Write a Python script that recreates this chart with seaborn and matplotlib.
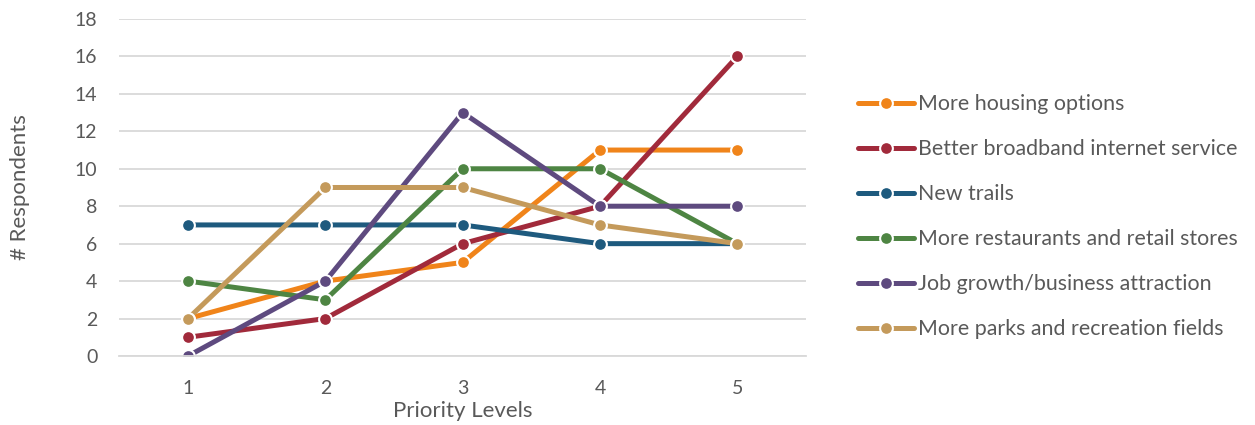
import matplotlib
matplotlib.use("Agg")
import matplotlib.pyplot as plt
import seaborn as sns
import pandas as pd

levels = [1, 2, 3, 4, 5]
series_names = [
    "More housing options",
    "Better broadband internet service",
    "New trails",
    "More restaurants and retail stores",
    "Job growth/business attraction",
    "More parks and recreation fields",
]
housing = [2, 4, 5, 11, 11]
broadband = [1, 2, 6, 8, 16]
trails = [7, 7, 7, 6, 6]
restaurants = [4, 3, 10, 10, 6]
jobs = [0, 4, 13, 8, 8]
parks = [2, 9, 9, 7, 6]
y_ticks = [0, 2, 4, 6, 8, 10, 12, 14, 16, 18]

colors = ["#F0841A", "#A12A3B", "#1E5A7E", "#4E8543", "#5E4A7F", "#C49A5B"]

rows = []
for name, vals in zip(series_names, [housing, broadband, trails, restaurants, jobs, parks]):
    for lvl, v in zip(levels, vals):
        rows.append({"Priority Levels": lvl, "# Respondents": v, "Series": name})
df = pd.DataFrame(rows)

sns.set_theme(style="white")
plt.rcParams["font.family"] = ["Lato", "DejaVu Sans"]
text_color = "#595959"

fig = plt.figure(figsize=(12.55, 4.25), dpi=100)
ax = fig.add_axes([0.0952, 0.1624, 0.5470, 0.7929])

sns.lineplot(
    data=df, x="Priority Levels", y="# Respondents", hue="Series",
    hue_order=series_names, palette=colors, marker="o", markersize=9.2,
    markeredgecolor="white", markeredgewidth=1.5, linewidth=3.6,
    dashes=False, ax=ax, legend=True,
)

ax.set_xlim(0.5, 5.5)
ax.set_ylim(0, 18)
ax.set_yticks(y_ticks)
ax.set_xticks(levels)
ax.yaxis.grid(True, color="#D9D9D9", linewidth=1.3)
ax.set_axisbelow(True)
for s in ["top", "right", "left"]:
    ax.spines[s].set_visible(False)
ax.spines["bottom"].set_color("#D9D9D9")
ax.spines["bottom"].set_linewidth(1.3)
ax.tick_params(axis="both", length=0, labelsize=14, labelcolor=text_color)
ax.tick_params(axis="y", pad=16)
ax.tick_params(axis="x", pad=17)
ax.set_xlabel("Priority Levels", fontsize=16, color=text_color, labelpad=3)
ax.set_ylabel("# Respondents", fontsize=16, color=text_color)
ax.yaxis.set_label_coords(-0.130, 0.5)

handles, labels = ax.get_legend_handles_labels()
ax.legend(
    handles, labels, loc="center left", bbox_to_anchor=(0.6765, 0.490),
    bbox_transform=fig.transFigure, frameon=False, fontsize=15.4,
    labelcolor=text_color, handlelength=2.65, handletextpad=0.17,
    labelspacing=1.17, borderaxespad=0,
)

fig.savefig("out.png", dpi=100)
